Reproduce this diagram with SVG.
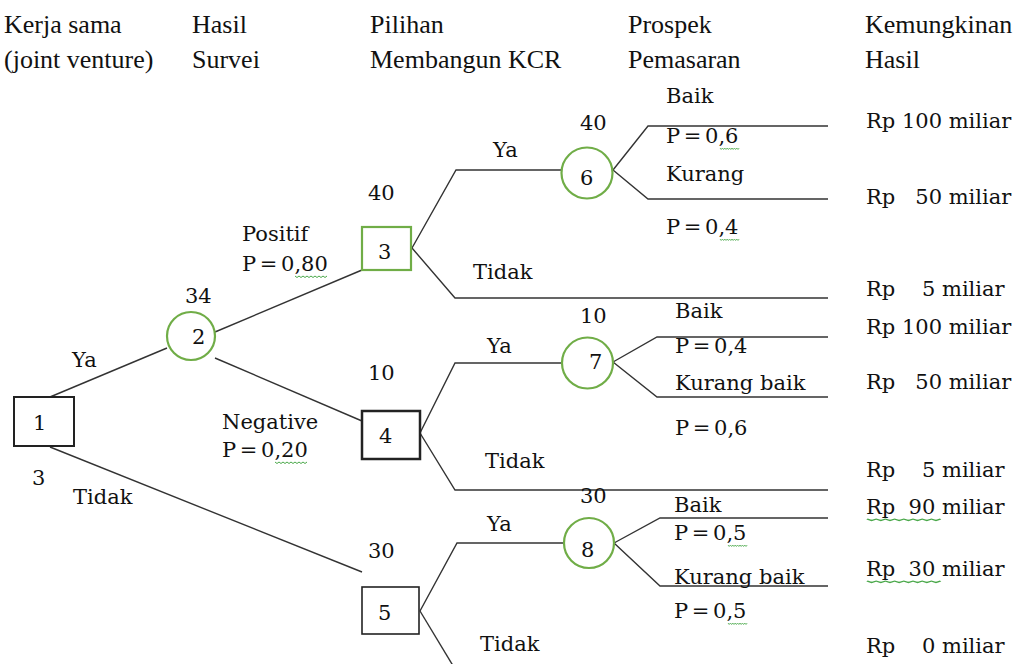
<svg xmlns="http://www.w3.org/2000/svg" width="1020" height="664" viewBox="0 0 1020 664">
<style>
.hdr{font-family:"Liberation Serif",serif;font-size:26px;fill:#111}
.t{font-family:"DejaVu Serif",serif;font-size:21px;fill:#111;white-space:pre}
.p{word-spacing:-3px}
.edge{fill:none;stroke:#333;stroke-width:1.4}
.chance{fill:#fff;stroke:#70AD47;stroke-width:2.2}
.dec{fill:#fff;stroke:#222;stroke-width:2}
.sq{fill:none;stroke:#4aa84a;stroke-width:1}
</style>
<defs>
<path id="wave" d="M0,0 l2,1.5 l2,-1.5 l2,1.5 l2,-1.5 l2,1.5 l2,-1.5 l2,1.5 l2,-1.5 l2,1.5 l2,-1.5 l2,1.5 l2,-1.5 l2,1.5 l2,-1.5 l2,1.5 l2,-1.5"/>
</defs>
<rect width="1020" height="664" fill="#fff"/>
<g id="headers">
<text class="hdr" x="4" y="33">Kerja sama</text>
<text class="hdr" x="4" y="68">(joint venture)</text>
<text class="hdr" x="192" y="33">Hasil</text>
<text class="hdr" x="192" y="68">Survei</text>
<text class="hdr" x="370" y="33">Pilihan</text>
<text class="hdr" x="370" y="68">Membangun KCR</text>
<text class="hdr" x="628" y="33">Prospek</text>
<text class="hdr" x="628" y="68">Pemasaran</text>
<text class="hdr" x="865" y="33">Kemungkinan</text>
<text class="hdr" x="865" y="68">Hasil</text>
</g>
<g id="connectors">
<path class="edge" d="M50,397 L167,348"/>
<path class="edge" d="M50,447 L362,572"/>
<path class="edge" d="M215,332 L362,270"/>
<path class="edge" d="M215,358 L362,421"/>
<path class="edge" d="M412,248 L456,170 L562,170"/>
<path class="edge" d="M412,248 L455,298 L828,298"/>
<path class="edge" d="M613,170 L648,126 L828,126"/>
<path class="edge" d="M613,170 L648,199 L828,199"/>
<path class="edge" d="M420,433 L455,363 L562,363"/>
<path class="edge" d="M420,433 L455,490 L828,490"/>
<path class="edge" d="M613,362 L657,337 L828,337"/>
<path class="edge" d="M613,362 L657,397 L828,397"/>
<path class="edge" d="M420,611 L457,543 L564,543"/>
<path class="edge" d="M420,611 L458,674"/>
<path class="edge" d="M614,543 L660,518 L828,518"/>
<path class="edge" d="M614,543 L660,586 L828,586"/>
</g>
<g id="labels">
<text class="t" x="72" y="367">Ya</text>
<text class="t" x="32" y="485">3</text>
<text class="t" x="73" y="504">Tidak</text>
<text class="t" x="185" y="303">34</text>
<text class="t" x="242" y="241">Positif</text>
<text class="t p" x="242" y="271">P = 0,80</text>
<text class="t" x="222" y="429">Negative</text>
<text class="t p" x="222" y="457">P = 0,20</text>
<text class="t" x="368" y="200">40</text>
<text class="t" x="493" y="157">Ya</text>
<text class="t" x="473" y="279">Tidak</text>
<text class="t" x="368" y="380">10</text>
<text class="t" x="487" y="353">Ya</text>
<text class="t" x="485" y="468">Tidak</text>
<text class="t" x="368" y="558">30</text>
<text class="t" x="487" y="531">Ya</text>
<text class="t" x="480" y="651">Tidak</text>
<text class="t" x="580" y="130">40</text>
<text class="t" x="666" y="103">Baik</text>
<text class="t p" x="666" y="143">P = 0,6</text>
<text class="t" x="666" y="181">Kurang</text>
<text class="t p" x="666" y="234">P = 0,4</text>
<text class="t" x="580" y="323">10</text>
<text class="t" x="675" y="318">Baik</text>
<text class="t p" x="675" y="353">P = 0,4</text>
<text class="t" x="675" y="390">Kurang baik</text>
<text class="t p" x="675" y="435">P = 0,6</text>
<text class="t" x="580" y="503">30</text>
<text class="t" x="674" y="512">Baik</text>
<text class="t p" x="674" y="540">P = 0,5</text>
<text class="t" x="674" y="584">Kurang baik</text>
<text class="t p" x="674" y="618">P = 0,5</text>
<text class="t" x="866" y="128">Rp 100 miliar</text>
<text class="t" x="866" y="204">Rp   50 miliar</text>
<text class="t" x="866" y="296">Rp    5 miliar</text>
<text class="t" x="866" y="334">Rp 100 miliar</text>
<text class="t" x="866" y="389">Rp   50 miliar</text>
<text class="t" x="866" y="477">Rp    5 miliar</text>
<text class="t" x="866" y="514">Rp  90 miliar</text>
<text class="t" x="866" y="576">Rp  30 miliar</text>
<text class="t" x="866" y="653">Rp    0 miliar</text>
</g>
<g id="squiggles">
<use href="#wave" class="sq" transform="translate(295,276)"/>
<use href="#wave" class="sq" transform="translate(275,462)"/>
<use href="#wave" class="sq" transform="translate(720,148) scale(0.6,1)"/>
<use href="#wave" class="sq" transform="translate(720,239) scale(0.6,1)"/>
<use href="#wave" class="sq" transform="translate(728,545) scale(0.6,1)"/>
<use href="#wave" class="sq" transform="translate(728,623) scale(0.6,1)"/>
<use href="#wave" class="sq" transform="translate(867,519) scale(2.3,1)"/>
<use href="#wave" class="sq" transform="translate(867,581) scale(2.3,1)"/>
</g>
<g id="node1"><rect class="dec" x="14" y="397" width="60" height="49"/><text class="t" x="33" y="430">1</text></g>
<g id="node2"><circle class="chance" cx="191" cy="336" r="24"/><text class="t" x="192" y="344">2</text></g>
<g id="node3"><rect class="chance" x="362" y="227" width="49" height="43"/><text class="t" x="378" y="259">3</text></g>
<g id="node4"><rect class="dec" x="362" y="411" width="58" height="48" style="stroke-width:2.5"/><text class="t" x="379" y="443">4</text></g>
<g id="node5"><rect class="dec" x="362" y="587" width="57" height="47" style="stroke-width:1.6"/><text class="t" x="378" y="620">5</text></g>
<g id="node6"><circle class="chance" cx="587" cy="173" r="25.5"/><text class="t" x="580" y="185">6</text></g>
<g id="node7"><circle class="chance" cx="587.5" cy="363" r="25.5"/><text class="t" x="589" y="369">7</text></g>
<g id="node8"><circle class="chance" cx="589" cy="543" r="25"/><text class="t" x="581" y="557">8</text></g>
</svg>
